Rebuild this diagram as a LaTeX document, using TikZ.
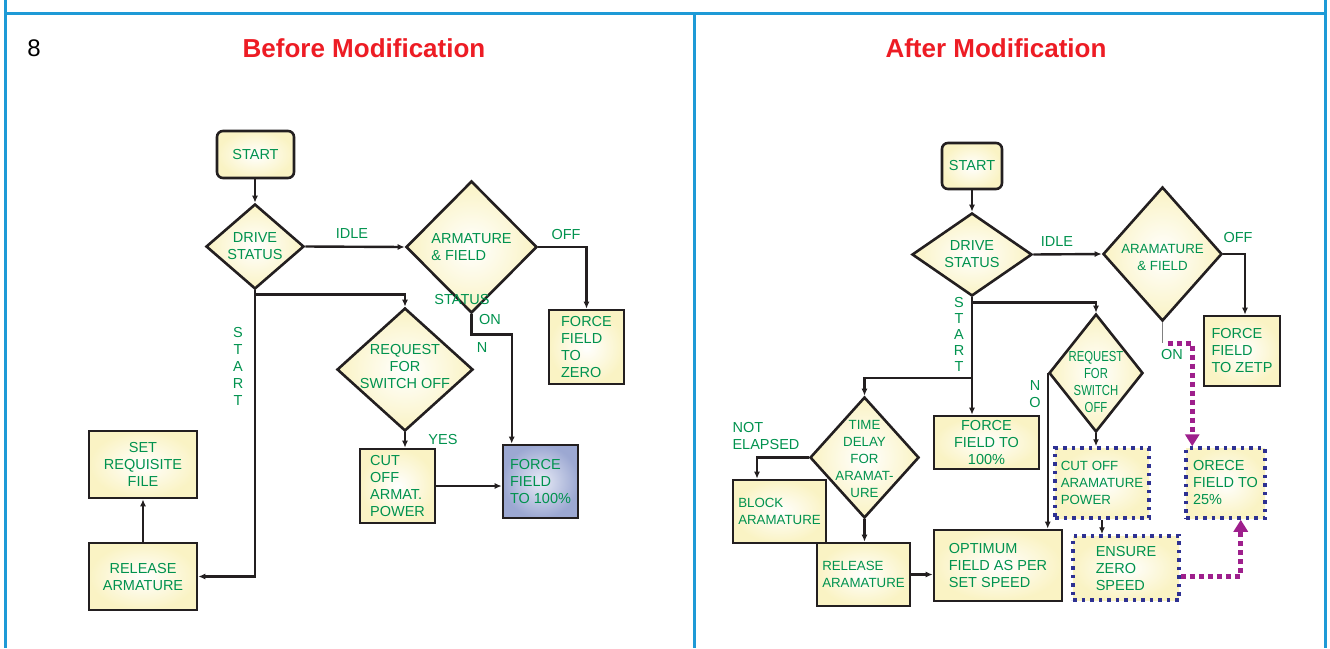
\documentclass[tikz,border=0pt]{standalone}
\usepackage{fontspec}
\setmainfont{Liberation Sans}
\usepackage{graphicx}
\usetikzlibrary{positioning, arrows.meta, shapes.geometric}

\definecolor{frameblue}{RGB}{30,154,214}
\definecolor{titlered}{RGB}{237,28,36}
\definecolor{txtgreen}{RGB}{0,146,78}
\definecolor{inkline}{RGB}{35,31,32}
\definecolor{cream}{RGB}{250,243,196}
\definecolor{steel}{RGB}{156,168,210}
\definecolor{steellight}{RGB}{232,235,246}
\definecolor{navy}{RGB}{46,49,146}
\definecolor{plum}{RGB}{158,31,140}

\begin{document}
\begin{tikzpicture}[x=1pt, y=-1pt,
  txt/.style={text=txtgreen, font=\fontsize{14.5}{17}\selectfont, inner sep=0pt},
  slim/.style={font=\fontsize{13.3}{17}\selectfont},
  box/.style={txt, draw=inkline, line width=2.6pt, inner color=white, outer color=cream, inner sep=2pt},
  dotbox/.style={box, draw=navy, line width=3.5pt, dash pattern=on 3.5pt off 5pt},
  dia/.style={diamond, draw=inkline, line width=2.6pt, inner color=white, outer color=cream, inner sep=0pt},
  lbl/.style={txt, align=center},
  arr/.style={draw=inkline, line width=2.4pt, -{Latex[length=7pt,width=6pt]}},
  hop/.style={draw=plum, line width=5pt, dash pattern=on 5pt off 4pt, -{Triangle[length=12pt,width=14pt]}},
  frame/.style={draw=frameblue, line width=3pt}]

\useasboundingbox (0,0) rectangle (1330,648);

% panel frame
\draw[frame] (5,13) -- (1325,13);
\draw[frame] (5,0) -- (5,648);
\draw[frame] (694,13) -- (694,648);
\draw[frame] (1325,0) -- (1325,648);

\node[font=\fontsize{24}{28}\selectfont] (fignum) at (34,48) {8};
\node[font=\fontsize{26}{30}\selectfont\bfseries, text=titlered] (ttl1) at (364,48) {Before Modification};
\node[font=\fontsize{26}{30}\selectfont\bfseries, text=titlered] (ttl2) at (996,48) {After Modification};

%%% before
\node[box, rounded corners=6pt, minimum width=77pt, minimum height=47pt] (start1) at (255.5,154.5) {START};
\node[dia, minimum width=98pt, minimum height=85pt, label={[lbl]center:DRIVE\\STATUS}] (ds1) at (255,246.5) {};
\node[dia, minimum width=131pt, minimum height=132pt, label={[lbl, align=left]center:ARMATURE\\\& FIELD}] (af1) at (471.5,247) {};
\node[lbl] (afst1) at (462,300) {STATUS};
\node[box, align=left, minimum width=75pt, minimum height=74pt] (zero1) at (586.5,347) {FORCE\\FIELD\\TO\\ZERO};
\node[box, align=left, inner color=steellight, outer color=steel, minimum width=75pt, minimum height=73pt] (full1) at (540.5,481.5) {FORCE\\FIELD\\TO 100\%};
\node[dia, minimum width=136pt, minimum height=123pt, label={[lbl, yshift=3pt]center:REQUEST\\FOR\\SWITCH OFF}] (req1) at (405,369.5) {};
\node[box, align=left, minimum width=75pt, minimum height=74pt] (cut1) at (397.5,486) {CUT\\OFF\\ARMAT.\\POWER};
\node[box, align=center, minimum width=108pt, minimum height=67pt] (set1) at (143,464.5) {SET\\REQUISITE\\FILE};
\node[box, align=center, minimum width=108pt, minimum height=67pt] (rel1) at (143,576.5) {RELEASE\\ARMATURE};

\draw[arr] (start1.south -| ds1.north) -- (ds1.north);
\draw[arr] (ds1.east) -- (af1.west);
\draw[arr] (af1.east) -| (zero1.north);
\draw[arr] (af1.south) -- ++(0,20) -| ([xshift=10pt]full1.north west);
\draw[arr] (ds1.south) |- (rel1.east);
\draw[arr] ([yshift=-4pt]ds1.south) -| (req1.north);
\draw[arr] (req1.south) -- (req1.south |- cut1.north);
\draw[arr] (cut1.east) -- (cut1.east -| full1.west);
\draw[arr] (rel1.north) -- (set1.south);

\node[lbl] (idle1) at (352,234) {IDLE};
\node[lbl] (off1) at (566,235) {OFF};
\node[lbl] (on1) at (490,320) {ON};
\node[lbl] (n1) at (482,348) {N};
\node[lbl] (yes1) at (443,440) {YES};
\node[lbl] (st1) at (238,366) {S\\T\\A\\R\\T};

%%% after
\node[box, rounded corners=6pt, minimum width=60pt, minimum height=46pt] (start2) at (972,166) {START};
\node[dia, minimum width=120pt, minimum height=83pt, label={[lbl]center:DRIVE\\STATUS}] (ds2) at (972,254.5) {};
\node[dia, minimum width=119pt, minimum height=134pt, label={[lbl, slim, yshift=-3pt]center:ARAMATURE\\\& FIELD}] (af2) at (1162.5,254) {};
\node[box, align=left, minimum width=76pt, minimum height=70pt] (zetp2) at (1242,351) {FORCE\\FIELD\\TO ZETP};
\node[dia, minimum width=94pt, minimum height=118pt, label={[lbl, yshift=-11pt]center:\scalebox{.78}[1]{\begin{tabular}{@{}c@{}}REQUEST\\FOR\\SWITCH\\OFF\end{tabular}}}] (req2) at (1096,373) {};
\node[dotbox, slim, align=left, minimum width=94pt, minimum height=70pt] (cut2) at (1102,483) {CUT OFF\\ARAMATURE\\POWER};
\node[dotbox, align=left, minimum width=106pt, minimum height=64pt] (ens2) at (1126,568) {ENSURE\\ZERO\\SPEED};
\node[dotbox, align=left, minimum width=79pt, minimum height=70pt] (ore2) at (1225.5,483) {ORECE\\FIELD TO\\25\%};
\node[box, align=center, minimum width=105pt, minimum height=53pt] (full2) at (986.5,442.5) {FORCE\\FIELD TO\\100\%};
\node[dia, minimum width=109pt, minimum height=121pt, label={[lbl, slim, yshift=-1pt]center:TIME\\DELAY\\FOR\\ARAMAT-\\URE}] (td2) at (864.5,457.5) {};
\node[box, slim, align=left, minimum width=93pt, minimum height=63pt] (blk2) at (779.5,511.5) {BLOCK\\ARAMATURE};
\node[box, slim, align=left, minimum width=93pt, minimum height=63pt] (rel2) at (863.5,574.5) {RELEASE\\ARAMATURE};
\node[box, align=left, minimum width=128pt, minimum height=71pt] (opt2) at (998,565.5) {OPTIMUM\\FIELD AS PER\\SET SPEED};

\coordinate (br2) at (972,378);

\draw[arr] (start2) -- (ds2);
\draw[arr] (ds2.east) -- (af2.west);
\draw[arr] (af2.east) -| ([xshift=3pt]zetp2.north);
\draw[gray, line width=1pt] (af2.south) -- ++(0,21) coordinate (on2);
\draw[hop] ([xshift=5pt]on2) -| ([xshift=8pt]ore2.north west);
\draw[hop] ([yshift=-8pt]ens2.east) -| ([xshift=-26pt]ore2.south east);
\draw[arr] (ds2.south) -- (ds2.south |- full2.north);
\draw[arr] ([yshift=-5pt]ds2.south) -| (req2.north);
\draw[arr] (br2) -| (td2.north);
\draw[arr] (req2.south) -- (req2.south |- cut2.north);
\draw[arr] (req2.west) -- (req2.west |- opt2.north);
\draw[arr] (cut2.south) -- (cut2.south |- ens2.north);
\draw[arr] (td2.west) -| ([xshift=-22.5pt]blk2.north);
\draw[arr] (td2.south) -- (td2.south |- rel2.north);
\draw[arr] (rel2.east) -- (rel2.east -| opt2.west);

\node[lbl] (idle2) at (1057,242) {IDLE};
\node[lbl] (off2) at (1238,238) {OFF};
\node[lbl] (on2l) at (1172,355) {ON};
\node[lbl, align=left] (nel2) at (766,436) {NOT\\ELAPSED};
\node[lbl, font=\fontsize{14.5}{16.2}\selectfont] (st2) at (959,334.5) {S\\T\\A\\R\\T};
\node[lbl] (no2) at (1035,394.5) {N\\O};

\end{tikzpicture}
\end{document}
